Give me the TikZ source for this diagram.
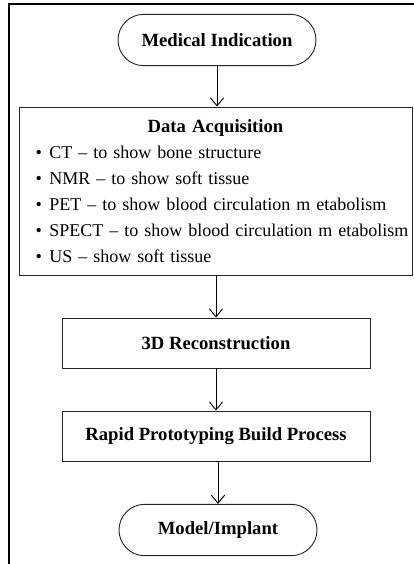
\documentclass[tikz,border=0pt]{standalone}
\usepackage{fontspec}
\setmainfont{Liberation Serif}
\usepackage{tikz}
\usetikzlibrary{shapes.misc}
\usetikzlibrary{arrows.meta}
\tikzset{>={Straight Barb[length=6pt,width=10pt]}}

\begin{document}
\begin{tikzpicture}[x=0.75pt, y=-0.75pt]
\tikzset{term/.style={draw=black!85, line width=0.7pt, rounded rectangle, minimum width=148.5pt, minimum height=38.5pt, inner sep=0pt, font=\fontsize{14}{16}\selectfont\bfseries}}
\tikzset{procbox/.style={draw=black!85, line width=0.7pt, rectangle, minimum width=231pt, minimum height=37.5pt, inner sep=0pt, font=\fontsize{14}{16}\selectfont\bfseries}}
\tikzset{flow/.style={->, line width=0.7pt}}
\newcommand{\bulletline}[1]{\hspace*{12.5pt}\textbullet\hspace{5.5pt}#1\par}
    \useasboundingbox (0,0) rectangle (414,564);

    % frame (top and left only)
    \draw[line width=1.2pt] (414,4) -- (9,4) -- (9,564);

    \node[term] (med) at (217,40) {Medical Indication};

    \node[draw=black!85, line width=0.7pt, rectangle, minimum width=294.75pt, minimum height=126pt, inner sep=0pt, text width=294.75pt, font=\fontsize{13.5}{19.5}\selectfont] (acq) at (215.5,191) {%
        \centering{\fontsize{14}{19.5}\selectfont\bfseries Data Acquisition}\par\raggedright
        \bulletline{CT -- to show bone structure}
        \bulletline{NMR -- to show soft tissue}
        \bulletline{PET -- to show blood circulation m etabolism}
        \bulletline{SPECT -- to show blood circulation m etabolism}
        \bulletline{US -- show soft tissue}};

    \node[procbox] (rec) at (216,343) {3D Reconstruction};
    \node[procbox] (rp) at (216,436) {Rapid Prototyping Build Process};

    \node[term] (mod) at (218,530) {Model/Implant};
% % % % % % % % % % % % % % % % % % %
    \draw[flow] (med.south) -- (med.south |- acq.north);
    \draw[flow] (rec.north |- acq.south) -- (rec.north);
    \draw[flow] (rec.south) -- (rp.north);
    \draw[flow] (rp.south) -- (rp.south -| mod.north) -- (mod.north);
\end{tikzpicture}
\end{document}
